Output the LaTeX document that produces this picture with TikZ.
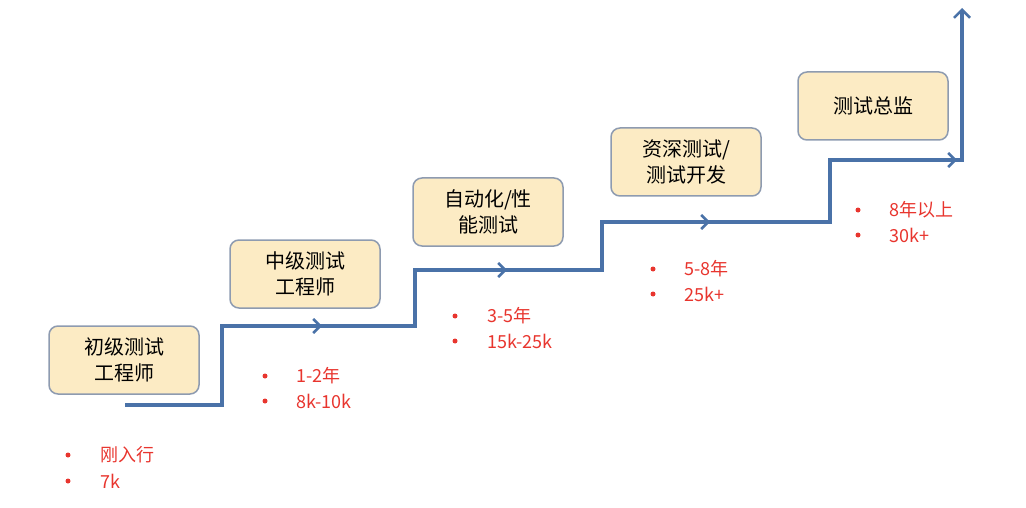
\documentclass[tikz,border=0pt]{standalone}
\usepackage{fontspec}
\setmainfont{Noto Sans CJK SC}
\usetikzlibrary{arrows.meta,decorations.markings}
\definecolor{ln}{HTML}{4A72A8}
\definecolor{bx}{HTML}{FCEBC4}
\definecolor{bd}{HTML}{8E9BB0}
\definecolor{rd}{HTML}{E8352E}
\begin{document}
\begin{tikzpicture}[x=1pt,y=-1pt,
  stage/.style={draw=bd,line width=1.5pt,fill=bx,rounded corners=9pt,minimum width=150pt,minimum height=68pt,align=center,font=\fontsize{20}{26}\selectfont,inner sep=2pt},
  info/.style={text=rd,anchor=west,font=\fontsize{18}{21}\selectfont,inner sep=0pt},
  dot/.style={circle,fill=rd,inner sep=0pt,minimum size=5pt},
  mid/.style={-{Straight Barb[length=7pt,width=14pt,line width=2.5pt]},ln,line width=3.5pt}]
\useasboundingbox (0,0) rectangle (1026,508);
\node[stage] (s1) at (124,360) {初级测试\\工程师};
\node[stage] (s2) at (305,274) {中级测试\\工程师};
\node[stage] (s3) at (488,212) {自动化/性\\能测试};
\node[stage] (s4) at (686,162) {资深测试/\\测试开发};
\node[stage] (s5) at (873,106) {测试总监};
\coordinate (p0) at (125,405);
\coordinate (p1) at (222,405);
\coordinate (p2) at (222,326);
\coordinate (p3) at (415,326);
\coordinate (p4) at (415,270);
\coordinate (p5) at (602,270);
\coordinate (p6) at (602,222);
\coordinate (p7) at (830,222);
\coordinate (p8) at (830,160);
\coordinate (p9) at (962,160);
\coordinate (p10) at (962,8);
\draw[ln,line width=3.5pt,-{Straight Barb[length=8pt,width=16pt,line width=2.5pt]}] (p0)--(p1)--(p2)--(p3)--(p4)--(p5)--(p6)--(p7)--(p8)--(p9)--(p10);
\draw[mid] (p2) -- (322,326);
\draw[mid] (p4) -- (507,270);
\draw[mid] (p6) -- (710,222);
\draw[mid] (p8) -- (957,160);
\foreach \bx/\tx/\ya/\yb/\ta/\tb [count=\i] in {68/100/455/481/刚入行/7k, 265/296/376/401/1-2年/8k-10k, 455/487/316/341/3-5年/15k-25k, 653/684/269/294/5-8年/25k+, 858/889/210/235/8年以上/30k+}{
  \node[dot] (da\i) at (\bx,\ya) {};
  \node[dot] (db\i) at (\bx,\yb) {};
  \node[info] (ta\i) at (\tx,\ya) {\ta};
  \node[info] (tb\i) at (\tx,\yb) {\tb};
}
\end{tikzpicture}
\end{document}
